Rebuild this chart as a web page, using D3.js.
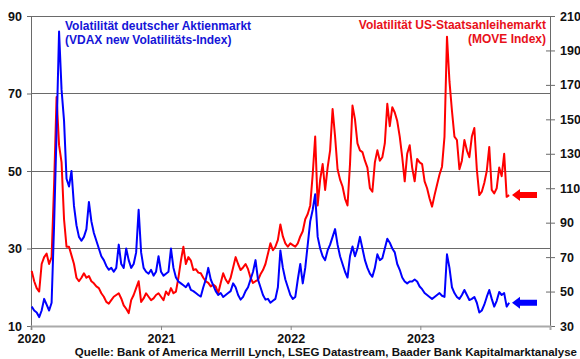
<!DOCTYPE html>
<html><head><meta charset="utf-8">
<script src="https://cdn.jsdelivr.net/npm/d3@7"></script>
<style>body{margin:0;background:#fff}svg{display:block}text{font-family:"Liberation Sans",Arial,sans-serif;font-weight:bold}</style>
</head><body><svg id="c" width="580" height="359"></svg>
<script>
// weekly observations starting 2020-01-03
const startDate = "2020-01-03";
const vdax = [15,14,13.5,12.3,14,17,15.5,14,16,36,60,86,71,63,48,46,50,41,36,33,32,33,35,42,37,34,32,30,28,27,25.5,24.5,25,24,25,31,26,25,30,27,25,26,29,40,29,25,24,23.5,24.5,23,24,28,24,23,23.5,24,30,25,22.5,21.5,21,20.5,20,21,19.3,19,18.5,18,17.6,20,22,25,22,20.5,19,18,18.5,17.5,18,18.5,19,21,20,18,16.8,17.5,19,20,22,24,27,22,20,18,16.8,17,16,16.5,17,20,29.5,25,22,20,18,17,17.5,22,26,21,25,31,37,40,44,33,30,28,27,29.5,31,33,35,31,28,26,24,22.5,28,30.5,28,30,33,30,27,25,23.5,22.7,25,28.5,27,27.5,30,32.5,31.5,30,29,26,24.5,22.5,21.5,21,21.5,21.5,22,21.5,20.2,19.5,18.5,18,17.5,17,17.5,18,18.5,17.8,17.5,28.5,25,20,18.5,17.5,17,18,19.3,18,16.7,17,17.5,16,13.5,14,15.5,17.5,19.3,17,15,16.5,18.8,18,18.5,15,16];
const move = [62,56,52,50,66,70,72,66,70,112,163,135,125,92,76,76,71,66,58,56,58,60.6,58,59,56,54.8,53,52,49,47,44,43,45,47,48,49,46,42,40,37.5,45,48,52,56,44,46,49,47,45,46,48,49,47,45,50,48,52,49,50,58,68,76,66,70,68,62.5,63,61,60.6,58,56,55,53,54,52.9,49,55,60.6,57,54.8,58,64,70,66,62.5,64,66,63,58,55,56,56.7,60,62.5,66,72,78,74,76,80,89,82,78,76,78,77,76,78,82,85,92,95,100,118,140,100,115,124,109,122,132,156,140,121,115,111,104,100,124,158,150,136,132,131,126,122,110,108,125,132,126,128,136,159,146,157,154,149,140,128,114,130,135,122,114,127,125,124,114,110,104,99.3,106,112,118,122.5,140,198,172,155,140,138,121,126,138,132,128,140,145,121,106,108,113,120,134,109,107,110,122,117,130,105,106];
const yearTicks = ["2020","2021","2022","2023"];
const leftTicks = [10,30,50,70,90];
const rightTicks = [30,50,70,90,110,130,150,170,190,210];
const vdaxLabel = ["Volatilität deutscher Aktienmarkt","(VDAX new Volatilitäts-Index)"];
const moveLabel = ["Volatilität US-Staatsanleihemarkt","(MOVE Index)"];
const source = "Quelle: Bank of America Merrill Lynch, LSEG Datastream, Baader Bank Kapitalmarktanalyse";

const parse = d3.timeParse("%Y-%m-%d");
const t0 = parse(startDate);
const dates = vdax.map((_, i) => d3.timeDay.offset(t0, 7 * i));

const svg = d3.select("#c");
const L = 31, R = 550, T = 16, B = 326;
const x = d3.scaleTime().domain([new Date(2020,0,1), new Date(2024,0,1)]).range([L, R]);
const yL = d3.scaleLinear().domain([10, 90]).range([B, T]);
const yR = d3.scaleLinear().domain([30, 210]).range([B, T]);

// gridlines
svg.append("g").selectAll("line").data([30,50,70,90]).join("line")
  .attr("x1", L).attr("x2", R).attr("y1", d => yL(d)).attr("y2", d => yL(d))
  .attr("stroke", "#6a6a6a").attr("stroke-width", 1).attr("shape-rendering","crispEdges");

// left axis
const gl = svg.append("g").attr("transform", `translate(${L},0)`)
  .call(d3.axisLeft(yL).tickValues(leftTicks).tickSize(4).tickPadding(5));
gl.select(".domain").attr("stroke", "#6a6a6a");
gl.selectAll(".tick line").attr("stroke", "#6a6a6a");
gl.selectAll("text").attr("font-size", 12.5).attr("fill", "#111").style("font-family","Liberation Sans, Arial").style("font-weight","bold");

// right axis
const gr = svg.append("g").attr("transform", `translate(${R},0)`)
  .call(d3.axisRight(yR).tickValues(rightTicks).tickSize(5).tickPadding(5));
gr.select(".domain").attr("stroke", "#6a6a6a");
gr.selectAll(".tick line").attr("stroke", "#6a6a6a").attr("x1", -4);
gr.selectAll("text").attr("font-size", 12.5).attr("fill", "#111").style("font-family","Liberation Sans, Arial").style("font-weight","bold");

// bottom axis
const gb = svg.append("g").attr("transform", `translate(0,${B})`)
  .call(d3.axisBottom(x).tickValues(yearTicks.map(y => new Date(+y, 0, 1))).tickFormat(d3.timeFormat("%Y")).tickSize(4).tickPadding(4));
gb.select(".domain").attr("stroke", "#aaaaaa").attr("stroke-width", 2);
gb.selectAll(".tick line").attr("stroke", "#888");
gb.selectAll("text").attr("font-size", 12.5).attr("fill", "#111").style("font-family","Liberation Sans, Arial").style("font-weight","bold");

// lines
const lineL = d3.line().x((d, i) => x(dates[i])).y(d => yL(d));
const lineR = d3.line().x((d, i) => x(dates[i])).y(d => yR(d));
svg.append("path").datum(move).attr("d", lineR).attr("fill", "none").attr("stroke", "#ff0000").attr("stroke-width", 2).attr("stroke-linejoin","round");
svg.append("path").datum(vdax).attr("d", lineL).attr("fill", "none").attr("stroke", "#0000ff").attr("stroke-width", 2).attr("stroke-linejoin","round");

// arrows at last values
function arrow(yv, color) {
  const xs = 512, w = 25;
  svg.append("path")
    .attr("d", `M${xs},${yv} L${xs+8},${yv-6} L${xs+8},${yv-3} L${xs+w},${yv-3} L${xs+w},${yv+3} L${xs+8},${yv+3} L${xs+8},${yv+6} Z`)
    .attr("fill", color);
}
arrow(yR(move[move.length-1]), "#ff0000");
arrow(yL(vdax[vdax.length-1]), "#0000ff");

// labels
svg.append("text").attr("x", 65).attr("y", 30).attr("font-size", 12).attr("fill", "#1515d8")
  .selectAll("tspan").data(vdaxLabel).join("tspan").attr("x", 65).attr("dy", (d, i) => i ? 13.5 : 0).text(d => d);
svg.append("text").attr("x", 546).attr("y", 29).attr("font-size", 12).attr("fill", "#e8101a").attr("text-anchor", "end")
  .selectAll("tspan").data(moveLabel).join("tspan").attr("x", 546).attr("dy", (d, i) => i ? 13.5 : 0).text(d => d);
svg.append("text").attr("x", 577).attr("y", 356).attr("font-size", 11.5).attr("fill", "#111").attr("text-anchor", "end").text(source);
</script></body></html>
